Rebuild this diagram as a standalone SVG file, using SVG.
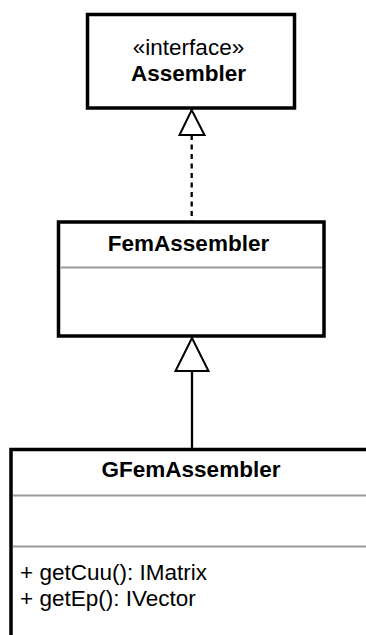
<svg xmlns="http://www.w3.org/2000/svg" width="366" height="635" viewBox="0 0 366 635">
  <style>
    .box { fill: #ffffff; stroke: #000000; stroke-width: 3.5; }
    .sep { stroke: #9a9a9a; stroke-width: 2; }
    .t { font-family: "Liberation Sans", Arial, sans-serif; font-size: 22.5px; fill: #000000; }
    .b { font-weight: bold; }
    .c { text-anchor: middle; }
    .edge { fill: none; stroke: #000000; stroke-width: 2.3; }
    .head { fill: #ffffff; stroke: #000000; stroke-width: 2; stroke-linejoin: miter; }
  </style>

  <!-- connectors: realization and generalization -->
  <g id="connectors">
    <line class="edge" x1="191.7" y1="135" x2="191.7" y2="221" stroke-dasharray="5 4.5"/>
    <polygon class="head" points="191.7,110 179.5,135 204.5,135"/>
    <line class="edge" x1="192" y1="371" x2="192" y2="448"/>
    <polygon class="head" points="192,338 175.5,371 208.5,371"/>
  </g>

  <g id="Assembler">
    <rect class="box" x="87.5" y="14.5" width="207" height="93.5"/>
    <text class="t c" x="188.5" y="55">«interface»</text>
    <text class="t b c" x="188.5" y="81">Assembler</text>
  </g>

  <g id="FemAssembler">
    <rect class="box" x="58.5" y="222" width="265.5" height="114"/>
    <line class="sep" x1="60.5" y1="267.5" x2="322" y2="267.5"/>
    <text class="t b c" x="188.5" y="250.5">FemAssembler</text>
  </g>

  <g id="GFemAssembler">
    <rect class="box" x="11" y="449.5" width="360" height="200"/>
    <line class="sep" x1="13" y1="495.5" x2="366" y2="495.5" stroke-width="2.5"/>
    <line class="sep" x1="13" y1="546.5" x2="366" y2="546.5"/>
    <text class="t b c" x="191" y="476.5">GFemAssembler</text>
    <text class="t" x="20" y="580">+ getCuu(): IMatrix</text>
    <text class="t" x="20" y="606">+ getEp(): IVector</text>
  </g>
</svg>
